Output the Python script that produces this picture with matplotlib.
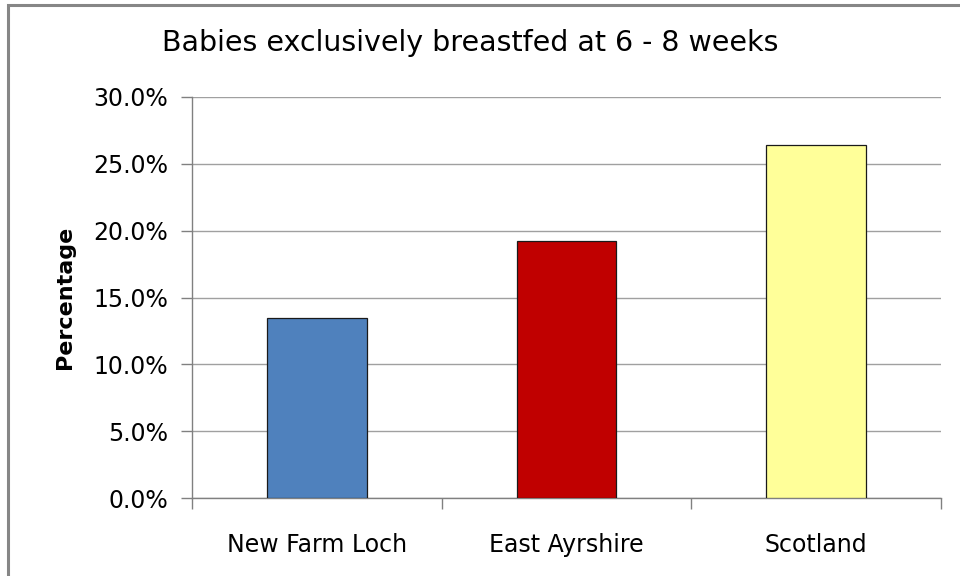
import matplotlib
matplotlib.use("Agg")
import matplotlib.pyplot as plt
from matplotlib.patches import Rectangle
from matplotlib.ticker import FuncFormatter, MultipleLocator

categories = ["New Farm Loch", "East Ayrshire", "Scotland"]
values = [13.5, 19.2, 26.4]
colors = ["#4F81BD", "#C00000", "#FFFF99"]
title = "Babies exclusively breastfed at 6 - 8 weeks"
ylabel = "Percentage"

plt.rcParams['font.family'] = ['DejaVu Sans']

fig = plt.figure(figsize=(9.6, 5.76), dpi=100)
ax = fig.add_axes([192/960, 1-498/576, (941-192)/960, (498-97)/576])

x = list(range(len(categories)))
ax.bar(x, values, width=0.4, color=colors, edgecolor="#1a1a1a", linewidth=0.9, zorder=3)

ax.set_xlim(-0.5, len(categories) - 0.5)
ax.set_ylim(0, 30)
ax.yaxis.set_major_locator(MultipleLocator(5))
ax.yaxis.set_major_formatter(FuncFormatter(lambda v, p: f"{v:.1f}%"))
ax.grid(axis='y', color="#A0A0A0", linewidth=1.0, zorder=0)

ax.set_xticks([-0.5, 0.5, 1.5, 2.5])
ax.set_xticklabels([])
ax.set_xticks(x, minor=True)
ax.set_xticklabels(categories, minor=True, fontsize=17)
ax.tick_params(axis='x', which='minor', length=0, pad=25)
ax.tick_params(axis='x', which='major', length=8, color="#808080", width=1)
ax.tick_params(axis='y', length=8, color="#808080", width=1, labelsize=17, pad=9)

for s in ["top", "right"]:
    ax.spines[s].set_visible(False)
for s in ["left", "bottom"]:
    ax.spines[s].set_color("#808080")
    ax.spines[s].set_linewidth(1.0)

ax.set_ylabel(ylabel, fontsize=16, fontweight='bold', labelpad=13)
fig.text(470/960, 1-43/576, title, ha='center', va='center', fontsize=20.5)

border = Rectangle((8/960, -0.05), 1.1, 1 - 5/576 + 0.05, transform=fig.transFigure,
                   fill=False, edgecolor="#868686", linewidth=2.2, clip_on=False)
fig.patches.append(border)

fig.savefig("out.png", dpi=100)
